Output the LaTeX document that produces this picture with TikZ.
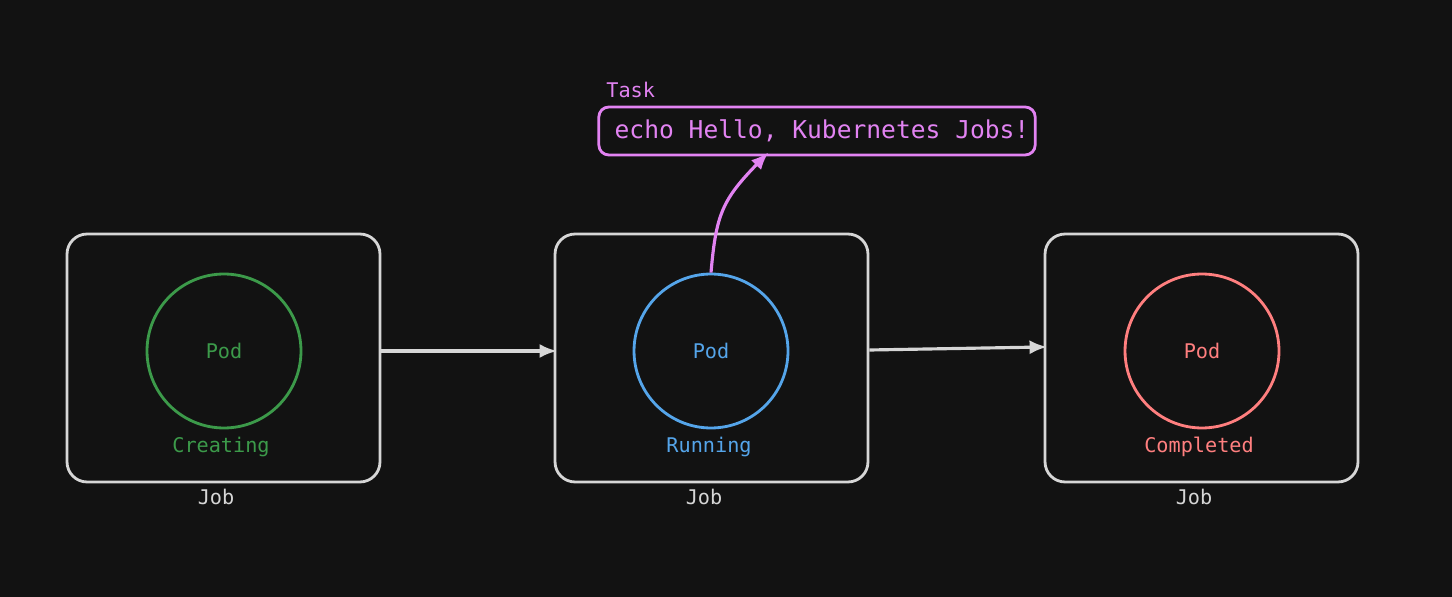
\documentclass[tikz,border=0pt]{standalone}
\usepackage{fontspec}
\setmonofont{DejaVu Sans Mono}
\usepackage{tikz}
\usetikzlibrary{arrows,arrows.meta,backgrounds,calc,positioning}
\definecolor{bgdark}{HTML}{121212}
\definecolor{boxgrey}{HTML}{D6D6D6}
\definecolor{podgreen}{HTML}{3C9A4A}
\definecolor{podblue}{HTML}{55A5EA}
\definecolor{podred}{HTML}{FF7F7F}
\definecolor{taskviolet}{HTML}{E283F2}

\begin{document}
\begin{tikzpicture}[x=0.02cm,y=-0.02cm,font=\ttfamily\fontsize{11.5}{13}\selectfont,
  jobbox/.style={draw=boxgrey,line width=1.6pt,rounded corners=0.4cm,minimum width=6.26cm,minimum height=4.96cm,inner sep=0pt},
  pod/.style={draw=#1,text=#1,circle,line width=1.6pt,minimum size=3.08cm,inner sep=0pt},
  state/.style={text=#1},
  joblabel/.style={text=boxgrey},
  flow/.style={draw=boxgrey,line width=1.8pt,shorten >=-2pt,-{Latex[length=10pt,width=8pt]}}]
\fill[bgdark] (0,0) rectangle (1452,597);
\useasboundingbox (0,0) rectangle (1452,597);
% jobs
\node[jobbox] (job1) at (223.5,358) {};
\node[jobbox] (job2) at (711.5,358) {};
\node[jobbox] (job3) at (1201.5,358) {};
% pods
\node[pod=podgreen] (pod1) at (224,351) {Pod};
\node[pod=podblue] (pod2) at (711,351) {Pod};
\node[pod=podred] (pod3) at (1202,351) {Pod};
\node[state=podgreen] (state1) at (221,447) {Creating};
\node[state=podblue] (state2) at (709,447) {Running};
\node[state=podred] (state3) at (1199,447) {Completed};
\node[joblabel] (name1) at (216,497) {Job};
\node[joblabel] (name2) at (704,497) {Job};
\node[joblabel] (name3) at (1194,497) {Job};
% task
\node[draw=taskviolet,text=taskviolet,line width=1.6pt,rounded corners=0.2cm,minimum width=8.72cm,minimum height=0.96cm,font=\ttfamily\fontsize{14}{16}\selectfont] (task) at (817,131) {\hspace*{0.2cm}echo Hello, Kubernetes Jobs!};
\node[text=taskviolet,anchor=base west,inner sep=0pt] (tasklabel) at (606,98) {Task};
\coordinate (taskin) at ($(task.south west)+(171,-4)$);
\draw[taskviolet,line width=1.8pt,-{Latex[length=10pt,width=8pt]}] (pod2.north) .. controls (716,215) and (722,200) .. (taskin);
% transitions
\draw[flow] (job1.east |- pod1.center) -- (job2.west |- pod2.center);
\draw[flow] ($(job2.east |- pod2.center)+(0,-1)$) -- ($(job3.west |- pod3.center)+(0,-4)$);
\end{tikzpicture}
\end{document}
